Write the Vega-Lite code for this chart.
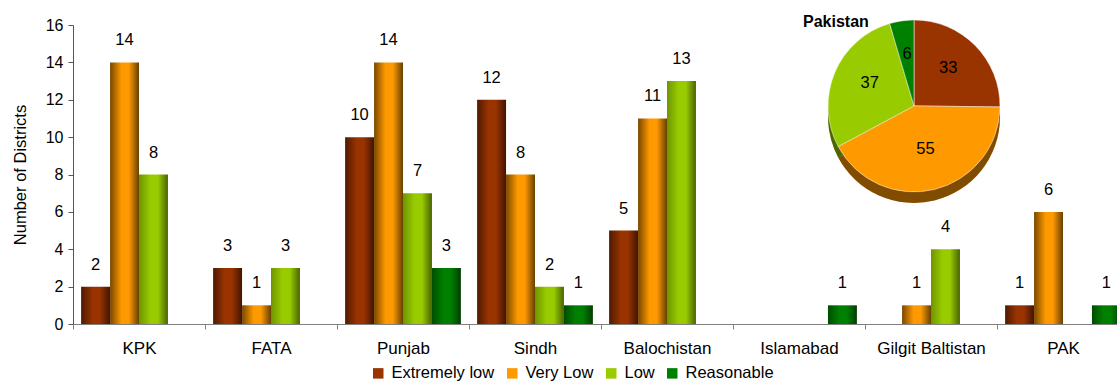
{
  "$schema": "https://vega.github.io/schema/vega-lite/v6.json",
  "width": 1056,
  "height": 299,
  "autosize": {"type": "none"},
  "padding": {"left": 73, "top": 25, "right": -12, "bottom": 58},
  "config": {
    "font": "Liberation Sans",
    "view": {"stroke": null},
    "axis": {"grid": false},
    "axisY": {"labelOverlap": false, "labelFontSize": 16, "labelColor": "#000000", "tickSize": 5, "tickColor": "#555555", "domainColor": "#555555", "titleFontSize": 16.5, "titleFontWeight": "normal", "titleColor": "#000000", "titlePadding": 17, "labelPadding": 5},
    "axisX": {"labelAngle": 0, "labelFontSize": 17, "labelColor": "#000000", "tickBand": "extent", "tickSize": 5, "tickColor": "#808080", "domainColor": "#808080", "labelPadding": 11}
  },
  "datasets": {
    "districts": [
      {"region": "KPK", "category": "Extremely low", "value": 2},
      {"region": "KPK", "category": "Very Low", "value": 14},
      {"region": "KPK", "category": "Low", "value": 8},
      {"region": "KPK", "category": "Reasonable", "value": 0},
      {"region": "FATA", "category": "Extremely low", "value": 3},
      {"region": "FATA", "category": "Very Low", "value": 1},
      {"region": "FATA", "category": "Low", "value": 3},
      {"region": "FATA", "category": "Reasonable", "value": 0},
      {"region": "Punjab", "category": "Extremely low", "value": 10},
      {"region": "Punjab", "category": "Very Low", "value": 14},
      {"region": "Punjab", "category": "Low", "value": 7},
      {"region": "Punjab", "category": "Reasonable", "value": 3},
      {"region": "Sindh", "category": "Extremely low", "value": 12},
      {"region": "Sindh", "category": "Very Low", "value": 8},
      {"region": "Sindh", "category": "Low", "value": 2},
      {"region": "Sindh", "category": "Reasonable", "value": 1},
      {"region": "Balochistan", "category": "Extremely low", "value": 5},
      {"region": "Balochistan", "category": "Very Low", "value": 11},
      {"region": "Balochistan", "category": "Low", "value": 13},
      {"region": "Balochistan", "category": "Reasonable", "value": 0},
      {"region": "Islamabad", "category": "Extremely low", "value": 0},
      {"region": "Islamabad", "category": "Very Low", "value": 0},
      {"region": "Islamabad", "category": "Low", "value": 0},
      {"region": "Islamabad", "category": "Reasonable", "value": 1},
      {"region": "Gilgit Baltistan", "category": "Extremely low", "value": 0},
      {"region": "Gilgit Baltistan", "category": "Very Low", "value": 1},
      {"region": "Gilgit Baltistan", "category": "Low", "value": 4},
      {"region": "Gilgit Baltistan", "category": "Reasonable", "value": 0},
      {"region": "PAK", "category": "Extremely low", "value": 1},
      {"region": "PAK", "category": "Very Low", "value": 6},
      {"region": "PAK", "category": "Low", "value": 0},
      {"region": "PAK", "category": "Reasonable", "value": 1}
    ],
    "pakistan": [
      {"category": "Extremely low", "districts": 33},
      {"category": "Very Low", "districts": 55},
      {"category": "Low", "districts": 37},
      {"category": "Reasonable", "districts": 6}
    ]
  },
  "layer": [
    {
      "data": {"name": "districts"},
      "transform": [{"filter": "datum.category === 'Extremely low'"}],
      "mark": {"type": "bar", "fill": {"gradient": "linear", "x1": 0, "y1": 0, "x2": 1, "y2": 0, "stops": [
        {"offset": 0, "color": "#4f1a00"}, {"offset": 0.4, "color": "#993300"}, {"offset": 0.65, "color": "#993300"}, {"offset": 1, "color": "#401500"}]}},
      "encoding": {
        "x": {"field": "region", "type": "nominal", "title": null,
          "scale": {"domain": ["KPK", "FATA", "Punjab", "Sindh", "Balochistan", "Islamabad", "Gilgit Baltistan", "PAK"], "paddingInner": 0, "paddingOuter": 0}},
        "xOffset": {"field": "category", "scale": {"domain": ["Extremely low", "Very Low", "Low", "Reasonable"], "paddingInner": 0, "paddingOuter": 0.28}},
        "y": {"field": "value", "type": "quantitative", "title": "Number of Districts",
          "scale": {"domain": [0, 16], "nice": false},
          "axis": {"values": [0, 2, 4, 6, 8, 10, 12, 14, 16], "titleFontSize": 16.5, "titleFontWeight": "normal", "titlePadding": 17}}
      }
    },
    {
      "data": {"name": "districts"},
      "transform": [{"filter": "datum.category === 'Very Low'"}],
      "mark": {"type": "bar", "fill": {"gradient": "linear", "x1": 0, "y1": 0, "x2": 1, "y2": 0, "stops": [
        {"offset": 0, "color": "#7a4800"}, {"offset": 0.4, "color": "#ff9900"}, {"offset": 0.65, "color": "#ff9900"}, {"offset": 1, "color": "#664000"}]}},
      "encoding": {
        "x": {"field": "region", "type": "nominal", "title": null},
        "xOffset": {"field": "category"},
        "y": {"field": "value", "type": "quantitative", "title": "Number of Districts", "axis": {"values": [0, 2, 4, 6, 8, 10, 12, 14, 16], "titleFontSize": 16.5, "titleFontWeight": "normal", "titlePadding": 17}}
      }
    },
    {
      "data": {"name": "districts"},
      "transform": [{"filter": "datum.category === 'Low'"}],
      "mark": {"type": "bar", "fill": {"gradient": "linear", "x1": 0, "y1": 0, "x2": 1, "y2": 0, "stops": [
        {"offset": 0, "color": "#6f9400"}, {"offset": 0.4, "color": "#99cc00"}, {"offset": 0.65, "color": "#99cc00"}, {"offset": 1, "color": "#4a6200"}]}},
      "encoding": {
        "x": {"field": "region", "type": "nominal", "title": null},
        "xOffset": {"field": "category"},
        "y": {"field": "value", "type": "quantitative", "title": "Number of Districts", "axis": {"values": [0, 2, 4, 6, 8, 10, 12, 14, 16], "titleFontSize": 16.5, "titleFontWeight": "normal", "titlePadding": 17}}
      }
    },
    {
      "data": {"name": "districts"},
      "transform": [{"filter": "datum.category === 'Reasonable'"}],
      "mark": {"type": "bar", "fill": {"gradient": "linear", "x1": 0, "y1": 0, "x2": 1, "y2": 0, "stops": [
        {"offset": 0, "color": "#004d00"}, {"offset": 0.4, "color": "#008000"}, {"offset": 0.65, "color": "#008000"}, {"offset": 1, "color": "#003d00"}]}},
      "encoding": {
        "x": {"field": "region", "type": "nominal", "title": null},
        "xOffset": {"field": "category"},
        "y": {"field": "value", "type": "quantitative", "title": "Number of Districts", "axis": {"values": [0, 2, 4, 6, 8, 10, 12, 14, 16], "titleFontSize": 16.5, "titleFontWeight": "normal", "titlePadding": 17}}
      }
    },
    {
      "data": {"name": "districts"},
      "transform": [{"filter": "datum.value > 0"}],
      "mark": {"type": "text", "fontSize": 16.5, "baseline": "alphabetic", "dy": -17, "color": "#000000"},
      "encoding": {
        "x": {"field": "region", "type": "nominal", "title": null},
        "xOffset": {"field": "category"},
        "y": {"field": "value", "type": "quantitative", "title": "Number of Districts", "axis": {"values": [0, 2, 4, 6, 8, 10, 12, 14, 16], "titleFontSize": 16.5, "titleFontWeight": "normal", "titlePadding": 17}},
        "text": {"field": "value", "type": "quantitative"}
      }
    },
    {
      "data": {"name": "pakistan"},
      "transform": [{"window": [{"op": "row_number", "as": "slice"}]}],
      "mark": {"type": "arc", "outerRadius": 86, "yOffset": 11, "xOffset": -17},
      "encoding": {
        "x": {"datum": "Gilgit Baltistan", "type": "nominal", "title": null},
        "y": {"datum": 11.67, "type": "quantitative", "title": "Number of Districts", "axis": {"values": [0, 2, 4, 6, 8, 10, 12, 14, 16], "titleFontSize": 16.5, "titleFontWeight": "normal", "titlePadding": 17}},
        "theta": {"field": "districts", "type": "quantitative", "stack": true},
        "order": {"field": "slice", "type": "quantitative"},
        "color": {"field": "category", "type": "nominal"}
      }
    },
    {
      "data": {"name": "pakistan"},
      "transform": [{"window": [{"op": "row_number", "as": "slice"}]}],
      "mark": {"type": "arc", "outerRadius": 86, "yOffset": 11, "xOffset": -17, "color": "#000000", "opacity": 0.5},
      "encoding": {
        "x": {"datum": "Gilgit Baltistan", "type": "nominal", "title": null},
        "y": {"datum": 11.67, "type": "quantitative", "title": "Number of Districts", "axis": {"values": [0, 2, 4, 6, 8, 10, 12, 14, 16], "titleFontSize": 16.5, "titleFontWeight": "normal", "titlePadding": 17}},
        "theta": {"field": "districts", "type": "quantitative", "stack": true},
        "order": {"field": "slice", "type": "quantitative"},
        "detail": {"field": "category"}
      }
    },
    {
      "data": {"name": "pakistan"},
      "transform": [{"window": [{"op": "row_number", "as": "slice"}]}],
      "mark": {"type": "arc", "outerRadius": 86, "xOffset": -17, "stroke": "#ffffff", "strokeWidth": 0.5},
      "encoding": {
        "x": {"datum": "Gilgit Baltistan", "type": "nominal", "title": null},
        "y": {"datum": 11.67, "type": "quantitative", "title": "Number of Districts", "axis": {"values": [0, 2, 4, 6, 8, 10, 12, 14, 16], "titleFontSize": 16.5, "titleFontWeight": "normal", "titlePadding": 17}},
        "theta": {"field": "districts", "type": "quantitative", "stack": true},
        "order": {"field": "slice", "type": "quantitative"},
        "color": {"field": "category", "type": "nominal",
          "scale": {"domain": ["Extremely low", "Very Low", "Low", "Reasonable"], "range": ["#993300", "#ff9900", "#99cc00", "#008000"]},
          "legend": {"title": null, "orient": "none", "legendX": 297, "legendY": 340, "direction": "horizontal",
            "symbolType": "square", "symbolSize": 110, "symbolStrokeWidth": 0, "labelFontSize": 16.5, "labelColor": "#000000",
            "labelOffset": 5, "columnPadding": 9}}
      }
    },
    {
      "data": {"name": "pakistan"},
      "transform": [{"window": [{"op": "row_number", "as": "slice"}]}],
      "mark": {"type": "text", "radius": 48, "xOffset": -17, "yOffset": -4, "fontSize": 16.5, "color": "#000000"},
      "encoding": {
        "x": {"datum": "Gilgit Baltistan", "type": "nominal", "title": null},
        "y": {"datum": 11.67, "type": "quantitative", "title": "Number of Districts", "axis": {"values": [0, 2, 4, 6, 8, 10, 12, 14, 16], "titleFontSize": 16.5, "titleFontWeight": "normal", "titlePadding": 17}},
        "theta": {"field": "districts", "type": "quantitative", "stack": true},
        "order": {"field": "slice", "type": "quantitative"},
        "detail": {"field": "category"},
        "text": {"field": "districts", "type": "quantitative"}
      }
    },
    {
      "data": {"values": [{"name": "Pakistan"}]},
      "mark": {"type": "text", "align": "left", "baseline": "alphabetic", "fontSize": 16, "fontWeight": "bold", "dx": -128, "dy": 2, "color": "#000000"},
      "encoding": {
        "x": {"datum": "Gilgit Baltistan", "type": "nominal", "title": null},
        "y": {"datum": 16, "type": "quantitative", "title": "Number of Districts", "axis": {"values": [0, 2, 4, 6, 8, 10, 12, 14, 16], "titleFontSize": 16.5, "titleFontWeight": "normal", "titlePadding": 17}},
        "text": {"field": "name"}
      }
    }
  ]
}
